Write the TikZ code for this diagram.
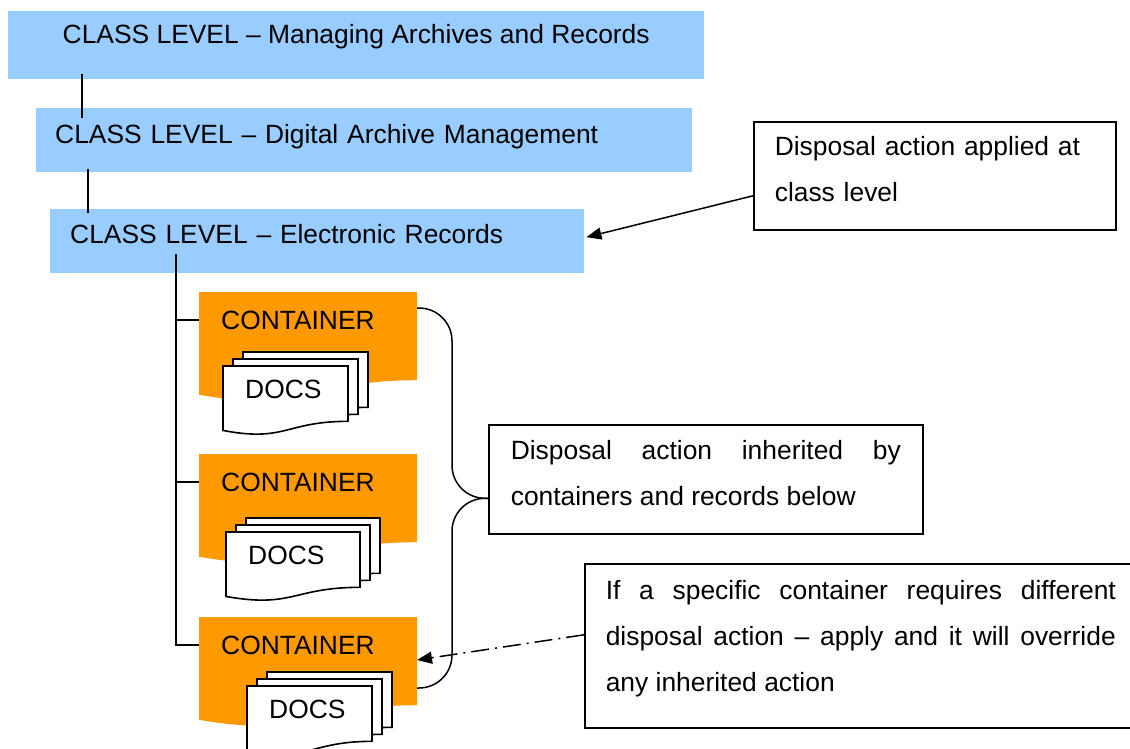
\documentclass[tikz,border=0pt]{standalone}
\usepackage[dvipsnames]{xcolor}
\usepackage{fontspec}
\setmainfont{Liberation Sans}
\usepackage{tikz}
\usetikzlibrary{arrows.meta}

\definecolor{classblue}{HTML}{99CCFF}
\definecolor{contorange}{HTML}{FF9900}
\tolerance=9999
\hyphenpenalty=10000

\newcommand{\docshape}[5]{\path[#1] (#2,#3) -- (#2+#4,#3) -- (#2+#4,#3+0.802*#5) .. controls (#2+0.5*#4,#3+0.802*#5) and (#2+0.5*#4,#3+1.1075*#5) .. (#2,#3+0.934*#5) -- cycle;}

\begin{document}
\begin{tikzpicture}[x=1pt, y=-1pt,
    lbl/.style={font=\fontsize{26.4}{46}\selectfont, inner sep=0pt},
    classbox/.style={lbl, fill=classblue, anchor=north west},
    notebox/.style={lbl, draw, line width=1.6pt, inner xsep=21pt, anchor=north west, text height=35pt},
    page/.style={fill=white, draw, line width=1.6pt},
    link/.style={line width=1.5pt},
    tip/.style={-{Triangle[length=15pt,width=12pt]}}]
        \useasboundingbox (0,0) rectangle (1130,749);
        \clip (0,0) rectangle (1130,749);

        \node[classbox, inner xsep=50pt, minimum width=696pt, text height=32pt, text depth=36pt] (c1) at (8,11) {CLASS LEVEL – Managing Archives and Records};
        \node[classbox, inner xsep=19pt, text width=618pt, align=left, text height=35pt, text depth=29pt] (c2) at (36,108) {CLASS LEVEL – Digital Archive Management};
        \node[classbox, inner xsep=20pt, text width=494pt, align=left, text height=34pt, text depth=30pt] (c3) at (50,209) {CLASS LEVEL – Electronic Records};

        \draw[link] ([xshift=74pt, yshift=5pt]c1.south west) -- ([xshift=46pt, yshift=-10pt]c2.north west);
        \draw[link] ([xshift=52pt, yshift=3pt]c2.south west) -- ([xshift=38pt, yshift=-4pt]c3.north west);

        \foreach \n/\ty/\dx/\dy/\dw in {1/292/223/366/125, 2/454/226/532/134, 3/617/247/686/125} {
            \docshape{fill=contorange}{199}{\ty}{218}{110}
            \foreach \k in {2,1,0} {\docshape{page}{\dx+10*\k}{\dy-7*\k}{\dw}{69}}
            \node[lbl, anchor=base west] (cont\n) at (221,\ty+37) {CONTAINER};
            \node[lbl, anchor=base west] (docs\n) at (\dx+22,\dy+32) {DOCS};
        }

        \coordinate (trunk) at ([xshift=126pt, yshift=19pt]c3.south west);
        \draw[link] (trunk) |- ([xshift=-22pt]cont3.west);
        \foreach \n in {1,2} \draw[link] (trunk |- cont\n.west) -- ([xshift=-22pt]cont\n.west);

        \node[notebox, text width=320pt, align=left, text height=34pt, text depth=74pt] (app) at (753,121) {Disposal action applied at class level};
        \node[notebox, inner xsep=22pt, text width=390pt, align=justify, text depth=74pt] (inh) at (488,424) {Disposal action inherited by containers and records below};
        \node[notebox, text width=510pt, align=justify, text height=36pt, text depth=128pt] (ovr) at (584,563) {If a specific container requires different disposal action – apply and it will override any inherited action};

        \coordinate (b1) at (417,308);
        \coordinate (b3) at (417,688);
        \coordinate (ov) at (417,660);
        \coordinate (tip) at ([yshift=-19pt]inh.west);
        \draw[link, rounded corners=33pt] (b1) -| ([xshift=-36pt]tip) -- (tip);
        \draw[link, rounded corners=33pt] (tip) -- ([xshift=-36pt]tip) |- (b3);

        \draw[link, tip] ([yshift=-20pt]app.west) -- ([xshift=2pt, yshift=4pt]c3.east);
        \draw[link, tip, dash pattern=on 18pt off 6pt on 2pt off 6pt] ([yshift=11pt]ovr.west) -- (ov);
    \end{tikzpicture}
\end{document}
